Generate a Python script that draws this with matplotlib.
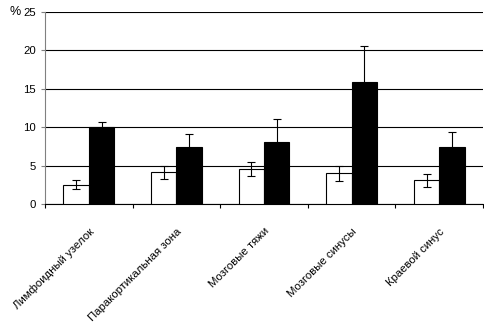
import numpy as np
import matplotlib.pyplot as plt

plt.rcParams['font.family'] = ['Liberation Sans', 'DejaVu Sans']

categories = ['Лимфоидный узелок', 'Паракортикальная зона', 'Мозговые тяжи',
              'Мозговые синусы', 'Краевой синус']
white_vals = [2.5, 4.1, 4.6, 4.0, 3.1]
white_err = [0.6, 0.9, 0.9, 1.0, 0.85]
black_vals = [10.0, 7.4, 8.0, 15.9, 7.4]
black_err = [0.7, 1.7, 3.0, 4.6, 1.9]

fig = plt.figure(figsize=(4.85, 3.3), dpi=100)
ax = fig.add_axes([0.093, 0.382, 0.903, 0.582])

x = np.arange(len(categories))
w = 0.29
ax.bar(x - w / 2, white_vals, w, color='white', edgecolor='black',
       linewidth=0.8, zorder=3)
ax.bar(x + w / 2, black_vals, w, color='black', edgecolor='black',
       linewidth=0.8, zorder=3)
ax.errorbar(x - w / 2, white_vals, yerr=white_err, fmt='none', ecolor='black',
            elinewidth=0.8, capsize=3, capthick=0.8, zorder=4)
ax.errorbar(x + w / 2, black_vals, yerr=black_err, fmt='none', ecolor='black',
            elinewidth=0.8, capsize=3, capthick=0.8, zorder=4)

ax.set_xlim(-0.5, len(categories) - 0.5)
ax.set_ylim(0, 25)
ax.set_yticks([0, 5, 10, 15, 20, 25])
ax.yaxis.grid(True, color='black', linewidth=0.8)
ax.set_axisbelow(True)

ax.set_xticks(np.arange(len(categories) + 1) - 0.5, minor=False)
ax.set_xticklabels([])
ax.set_xticks(x, minor=True)
ax.set_xticklabels(categories, minor=True, rotation=45, ha='right',
                   rotation_mode='anchor', fontsize=8.2)
ax.tick_params(axis='x', which='minor', length=0, pad=16)
ax.tick_params(axis='x', which='major', length=3, direction='out', width=0.8)
ax.tick_params(axis='y', length=3, width=0.8, labelsize=8.2, color='gray')

for s in ['top', 'right']:
    ax.spines[s].set_visible(False)
ax.spines['left'].set_color('gray')
ax.spines['bottom'].set_linewidth(0.8)

fig.text(0.02, 0.965, '%', fontsize=9, va='center')

fig.savefig('out.png', dpi=100)
